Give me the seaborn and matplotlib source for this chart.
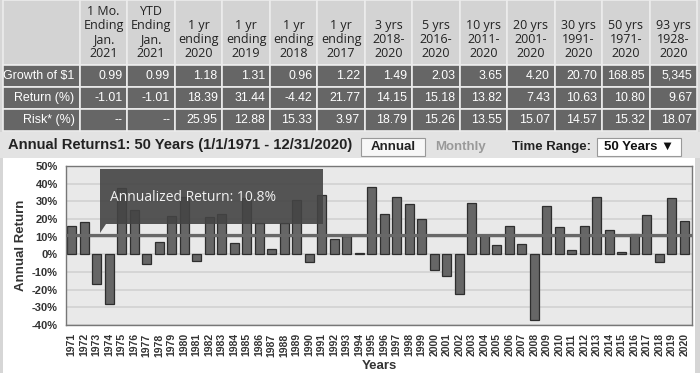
import matplotlib
matplotlib.use("Agg")
import matplotlib.pyplot as plt
from matplotlib.patches import Rectangle, Polygon
import seaborn as sns
import pandas as pd

# summary table
headers = ["1 Mo.\nEnding\nJan.\n2021", "YTD\nEnding\nJan.\n2021",
           "1 yr\nending\n2020", "1 yr\nending\n2019", "1 yr\nending\n2018", "1 yr\nending\n2017",
           "3 yrs\n2018-\n2020", "5 yrs\n2016-\n2020", "10 yrs\n2011-\n2020", "20 yrs\n2001-\n2020",
           "30 yrs\n1991-\n2020", "50 yrs\n1971-\n2020", "93 yrs\n1928-\n2020"]
row_labels = ["Growth of $1", "Return (%)", "Risk* (%)"]
growth = ["0.99", "0.99", "1.18", "1.31", "0.96", "1.22", "1.49", "2.03", "3.65", "4.20", "20.70", "168.85", "5,345"]
returns_tbl = ["-1.01", "-1.01", "18.39", "31.44", "-4.42", "21.77", "14.15", "15.18", "13.82", "7.43", "10.63", "10.80", "9.67"]
risk = ["--", "--", "25.95", "12.88", "15.33", "3.97", "18.79", "15.26", "13.55", "15.07", "14.57", "15.32", "18.07"]

# annual returns (%)
years = list(range(1971, 2021))
annual = [16.1, 18.4, -16.8, -28.1, 37.3, 25.2, -5.4, 7.0, 21.6, 32.5,
          -3.7, 21.0, 22.6, 6.3, 32.0, 17.8, 3.3, 17.8, 31.0, -4.2,
          33.4, 8.7, 10.2, 0.6, 37.9, 22.6, 32.7, 28.3, 20.1, -9.0,
          -12.0, -22.4, 29.0, 11.1, 5.2, 16.3, 5.6, -37.1, 27.2, 15.3,
          2.4, 16.3, 32.7, 14.0, 1.4, 11.7, 22.0, -4.6, 31.7, 18.8]
annualized = 10.8

W, H = 700, 373
sns.set_style("white")
plt.rcParams['font.family'] = ['Liberation Sans', 'DejaVu Sans']

fig = plt.figure(figsize=(7, 3.73), dpi=100, facecolor="#d6d6d6")

# white chart panel + title bar (behind the axes)
fig.add_artist(Rectangle((3 / W, 0), 692 / W, (H - 158) / H, transform=fig.transFigure,
                         facecolor="white", edgecolor="none", zorder=-10))
fig.add_artist(Rectangle((0, 1 - 158 / H), 1, 26 / H, transform=fig.transFigure,
                         facecolor="#e3e3e3", edgecolor="none", zorder=-10))

# table
ax_t = fig.add_axes([3 / W, 1 - 131 / H, 694 / W, 131 / H])
ax_t.axis("off")
cell_text = [[""] + [h if h.count("\n") == 3 else "\n" + h for h in headers],
             [row_labels[0]] + growth,
             [row_labels[1]] + returns_tbl,
             [row_labels[2]] + risk]
tbl = ax_t.table(cellText=cell_text, cellLoc="right", colWidths=[77] + [47.5] * 13,
                 bbox=[0, 0, 1, 1])
tbl.auto_set_font_size(False)
for (r, c), cell in tbl.get_celld().items():
    cell.set_height(65 if r == 0 else 22)
    cell.set_edgecolor("#ececec")
    cell.set_linewidth(1.2)
    cell.PAD = 0.07 if c == 0 else 0.1
    txt = cell.get_text()
    if r == 0:
        cell.set_facecolor("#d3d3d3")
        txt.set_horizontalalignment("center")
        txt.set_fontfamily("Open Sans")
        txt.set_fontsize(9)
        txt.set_color("#222222")
        txt.set_linespacing(1.12)
    else:
        cell.set_facecolor("#666666")
        txt.set_fontsize(8.9)
        txt.set_color("white")

# title bar texts
fig.text(8 / W, 1 - 145 / H, "Annual Returns1: 50 Years (1/1/1971 - 12/31/2020)",
         fontsize=10.6, fontweight="bold", color="#222222", va="center")
fig.add_artist(Rectangle((361 / W, 1 - 156 / H), 64 / W, 18 / H, transform=fig.transFigure,
                         facecolor="#f7f7f7", edgecolor="#999999", lw=0.8))
fig.text(393 / W, 1 - 147 / H, "Annual", fontsize=9.5, fontweight="bold", color="#222222",
         ha="center", va="center")
fig.text(460 / W, 1 - 147 / H, "Monthly", fontsize=9.5, fontweight="bold", color="#999999",
         ha="center", va="center")
fig.text(512 / W, 1 - 147 / H, "Time Range:", fontsize=9.5, fontweight="bold", color="#222222",
         va="center")
fig.add_artist(Rectangle((597 / W, 1 - 156 / H), 84 / W, 18 / H, transform=fig.transFigure,
                         facecolor="white", edgecolor="#999999", lw=0.8))
fig.text(639 / W, 1 - 147 / H, "50 Years \u25bc", fontsize=9.5, fontweight="bold", color="#111111",
         ha="center", va="center")

# bar chart
ax = fig.add_axes([66 / W, 1 - 325 / H, 626 / W, 159 / H])
df = pd.DataFrame({"Years": [str(y) for y in years], "Annual Return": annual})
sns.barplot(data=df, x="Years", y="Annual Return", ax=ax, color="#666666", saturation=1,
            edgecolor="#2e2e2e", linewidth=0.9, width=0.72, zorder=2)
ax.set_facecolor("#e9e9e9")
ax.set_ylim(-40, 50)
ax.set_xlim(-0.45, 49.6)
yt = list(range(-40, 60, 10))
ax.set_yticks(yt)
ax.set_yticklabels([f"{v}%" for v in yt], fontsize=8, fontweight="bold", color="#333333")
ax.set_xticks(range(len(years)))
ax.set_xticklabels([str(y) for y in years], rotation=90, fontsize=7.5, fontweight="bold",
                   color="#333333")
ax.tick_params(axis="both", length=4, width=0.8, color="#555555", pad=2)
ax.yaxis.grid(True, color="#d3d3d3", lw=1.3, zorder=0)
ax.set_axisbelow(True)
for s in ax.spines.values():
    s.set_color("#777777")
    s.set_linewidth(1)
ax.axhline(annualized, color="#686868", lw=2.3, zorder=3)

ax.set_ylabel("Annual Return", fontsize=9.5, fontweight="bold", color="#333333")
ax.yaxis.set_label_coords(-0.062, 0.5)
ax.set_xlabel("Years", fontsize=9.5, fontweight="bold", color="#333333")
ax.xaxis.set_label_coords(0.5, -0.22)

# tooltip
x0, x1 = (100 - 66) / 626, (323 - 66) / 626
ytop, ybot, ytip = (325 - 169) / 159, (325 - 224) / 159, (325 - 233) / 159
ax.add_patch(Polygon([(x0, ytop), (x1, ytop), (x1, ybot), (x0 + 6 / 626, ybot), (x0, ytip)],
                     closed=True, transform=ax.transAxes, facecolor="#444444", alpha=0.9,
                     edgecolor="none", zorder=5, clip_on=False))
ax.text((110 - 66) / 626, (325 - 197) / 159, f"Annualized Return: {annualized}%",
        transform=ax.transAxes, fontsize=10, family="Open Sans", color="#f0f0f0",
        va="center", zorder=6)

fig.savefig("out.png", dpi=100, facecolor=fig.get_facecolor())
